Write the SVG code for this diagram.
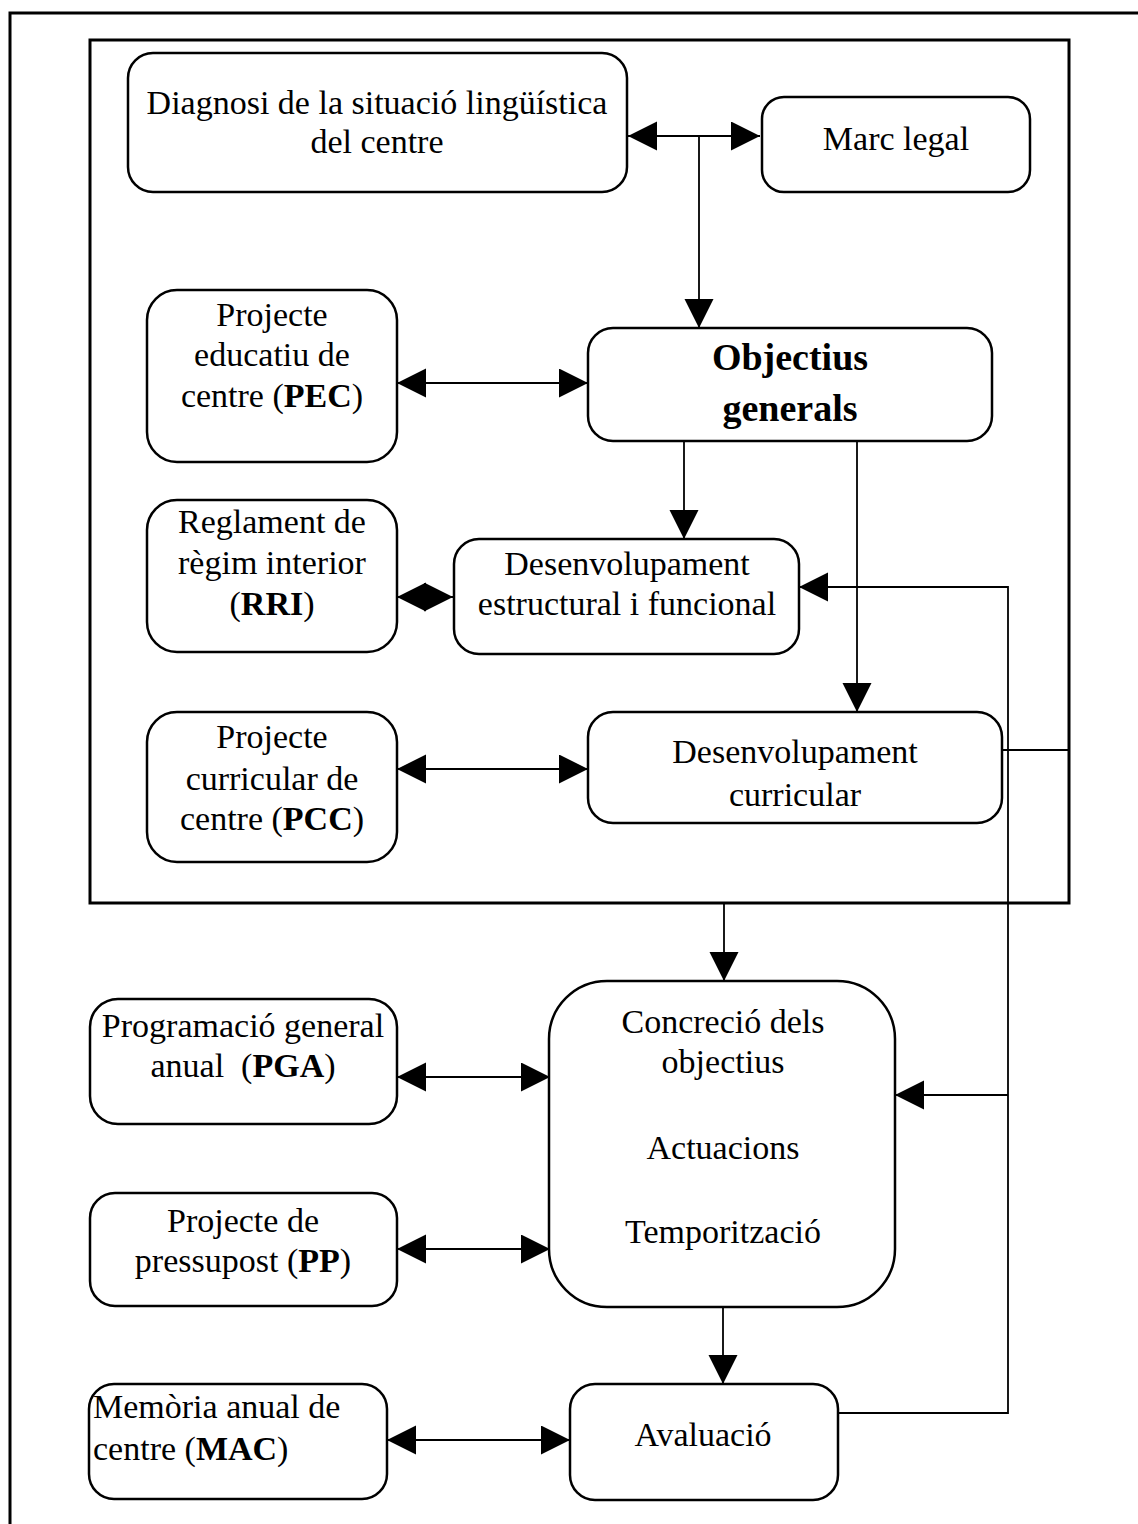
<svg xmlns="http://www.w3.org/2000/svg" width="1138" height="1524" viewBox="0 0 1138 1524">
<style>
.box{fill:#fff;stroke:#000;stroke-width:2.5}
.frame{fill:none;stroke:#000;stroke-width:3}
.ln{fill:none;stroke:#000;stroke-width:1.8}
text{font-family:"Liberation Serif","Times New Roman",serif;font-size:34px;fill:#000;text-anchor:middle}
.b{font-weight:bold}
.big{font-size:38px;font-weight:bold}
</style>
<defs>
<marker id="ah" markerUnits="userSpaceOnUse" markerWidth="30" markerHeight="30" refX="29" refY="14.5" orient="auto-start-reverse" viewBox="0 0 30 30">
<path d="M0,0 L29,14.5 L0,29 Z" fill="#000"/>
</marker>
</defs>
<rect width="1138" height="1524" fill="#fff"/>
<path class="frame" d="M10,1530 V13 H1145"/>
<rect class="frame" x="90" y="40" width="979" height="863"/>

<g id="connectors">
<path class="ln" d="M628,136 H760" marker-start="url(#ah)" marker-end="url(#ah)"/>
<path class="ln" d="M699,136 V328" marker-end="url(#ah)"/>
<path class="ln" d="M397,383 H588" marker-start="url(#ah)" marker-end="url(#ah)"/>
<path class="ln" d="M684,441 V539" marker-end="url(#ah)"/>
<path class="ln" d="M857,441 V712" marker-end="url(#ah)"/>
<path class="ln" d="M397,597 H453" marker-start="url(#ah)" marker-end="url(#ah)"/>
<path class="ln" d="M838,1413 H1008 V587 H799" marker-end="url(#ah)"/>
<path class="ln" d="M1068,750 H973" marker-end="url(#ah)"/>
<path class="ln" d="M397,769 H588" marker-start="url(#ah)" marker-end="url(#ah)"/>
<path class="ln" d="M724,904 V981" marker-end="url(#ah)"/>
<path class="ln" d="M1008,1095 H895" marker-end="url(#ah)"/>
<path class="ln" d="M397,1077 H550" marker-start="url(#ah)" marker-end="url(#ah)"/>
<path class="ln" d="M397,1249 H550" marker-start="url(#ah)" marker-end="url(#ah)"/>
<path class="ln" d="M723,1307 V1384" marker-end="url(#ah)"/>
<path class="ln" d="M387,1440 H570" marker-start="url(#ah)" marker-end="url(#ah)"/>
</g>

<g id="diagnosi">
<rect class="box" x="128" y="53" width="499" height="139" rx="25"/>
<text x="377" y="114">Diagnosi de la situació lingüística</text>
<text x="377" y="153">del centre</text>
</g>
<g id="marc">
<rect class="box" x="762" y="97" width="268" height="95" rx="22"/>
<text x="896" y="150">Marc legal</text>
</g>
<g id="objectius">
<rect class="box" x="588" y="328" width="404" height="113" rx="25"/>
<text class="big" x="790" y="370">Objectius</text>
<text class="big" x="790" y="421">generals</text>
</g>
<g id="pec">
<rect class="box" x="147" y="290" width="250" height="172" rx="30"/>
<text x="272" y="326">Projecte</text>
<text x="272" y="366">educatiu de</text>
<text x="272" y="407">centre (<tspan class="b">PEC</tspan>)</text>
</g>
<g id="rri">
<rect class="box" x="147" y="500" width="250" height="152" rx="30"/>
<text x="272" y="533">Reglament de</text>
<text x="272" y="574">règim interior</text>
<text x="272" y="615">(<tspan class="b">RRI</tspan>)</text>
</g>
<g id="desenv-estructural">
<rect class="box" x="454" y="539" width="345" height="115" rx="25"/>
<text x="627" y="575">Desenvolupament</text>
<text x="627" y="615">estructural i funcional</text>
</g>
<g id="pcc">
<rect class="box" x="147" y="712" width="250" height="150" rx="30"/>
<text x="272" y="748">Projecte</text>
<text x="272" y="790">curricular de</text>
<text x="272" y="830">centre (<tspan class="b">PCC</tspan>)</text>
</g>
<g id="desenv-curricular">
<rect class="box" x="588" y="712" width="414" height="111" rx="25"/>
<text x="795" y="763">Desenvolupament</text>
<text x="795" y="806">curricular</text>
</g>
<g id="pga">
<rect class="box" x="90" y="999" width="307" height="125" rx="28"/>
<text x="243" y="1037">Programació general</text>
<text x="243" y="1077" xml:space="preserve">anual  (<tspan class="b">PGA</tspan>)</text>
</g>
<g id="pp">
<rect class="box" x="90" y="1193" width="307" height="113" rx="25"/>
<text x="243" y="1232">Projecte de</text>
<text x="243" y="1272">pressupost (<tspan class="b">PP</tspan>)</text>
</g>
<g id="concrecio">
<rect class="box" x="549" y="981" width="346" height="326" rx="58"/>
<text x="723" y="1033">Concreció dels</text>
<text x="723" y="1073">objectius</text>
<text x="723" y="1159">Actuacions</text>
<text x="723" y="1243">Temporització</text>
</g>
<g id="mac">
<rect class="box" x="89" y="1384" width="298" height="115" rx="25"/>
<text x="93" y="1418" style="text-anchor:start">Memòria anual de</text>
<text x="93" y="1460" style="text-anchor:start">centre (<tspan class="b">MAC</tspan>)</text>
</g>
<g id="avaluacio">
<rect class="box" x="570" y="1384" width="268" height="116" rx="25"/>
<text x="703" y="1446">Avaluació</text>
</g>
</svg>
